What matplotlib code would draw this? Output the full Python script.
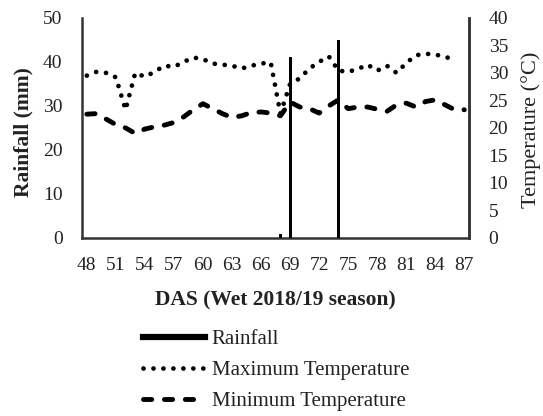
import numpy as np
import matplotlib
matplotlib.use("Agg")
import matplotlib.pyplot as plt
from matplotlib.lines import Line2D

plt.rcParams['font.family'] = ['Liberation Serif', 'DejaVu Serif']

# Donnees
days = list(range(48, 88))
tick_days = list(range(48, 88, 3))

max_temp = [29.5, 30.2, 30.0, 29.2, 23.3, 30.0, 29.3, 30.2, 31.3, 31.1,
            32.0, 32.8, 32.5, 31.7, 31.5, 31.3, 30.8, 31.3, 31.7, 31.9,
            22.6, 28.0, 29.0, 30.8, 32.0, 33.0, 30.4, 30.2, 30.7, 31.5,
            30.4, 31.3, 30.0, 31.8, 33.2, 33.5, 33.3, 33.0, 32.2, np.nan]
min_temp = [22.5, 22.6, 21.6, 20.6, 20.0, 19.0, 19.8, 20.2, 20.5, 21.0,
            22.0, 23.3, 24.4, 23.5, 22.6, 21.9, 22.2, 22.8, 22.9, 22.7,
            22.2, 24.7, 23.8, 23.5, 22.7, 24.0, 25.1, 23.5, 23.8, 23.8,
            23.4, 23.0, 24.2, 24.5, 23.8, 24.8, 25.1, 24.2, 23.3, 23.3]
rain_days = [68, 69, 74]
rain_mm = [1.0, 41.0, 45.0]

txt = '#222222'
dot_style = dict(color='black', lw=3.4, linestyle=(0, (0.01, 2.1)), dash_capstyle='round')
dash_style = dict(color='black', lw=3.5, linestyle=(0, (1.7, 2.6)), dash_capstyle='round')

fig = plt.figure(figsize=(5.43, 4.16), dpi=100)
ax = fig.add_axes([0.151, 0.428, 0.713, 0.529])
ax2 = ax.twinx()

# Pluie (axe gauche)
ax.bar(rain_days, rain_mm, width=0.3, color='black', zorder=3)
ax.set_ylim(0, 50)
ax.set_yticks([0, 10, 20, 30, 40, 50])
ax.set_xlim(47.5, 87.5)
ax.set_xticks(tick_days)

# Temperatures (axe droit)
ax2.plot(days, max_temp, **dot_style)
ax2.plot(days, min_temp, **dash_style)
ax2.set_ylim(0, 40)
ax2.set_yticks(range(0, 45, 5))

for a in (ax, ax2):
    a.spines['top'].set_visible(False)
    for s in ('left', 'right', 'bottom'):
        a.spines[s].set_linewidth(1.8)
        a.spines[s].set_color('#333333')
    a.tick_params(length=0, pad=14, labelsize=14, labelcolor=txt)
ax2.spines['left'].set_visible(False)
ax2.spines['bottom'].set_visible(False)

ax.set_ylabel("Rainfall (mm)", fontsize=15.5, fontweight='bold', color=txt)
ax.yaxis.set_label_coords(-0.152, 0.48)
ax.yaxis.label.set_va('center')
ax2.set_ylabel("Temperature (\u00b0C)", fontsize=16, color=txt)
ax2.yaxis.set_label_coords(1.160, 0.49)
ax2.yaxis.label.set_va('center')
ax.set_xlabel("DAS (Wet 2018/19 season)", fontsize=15.5, fontweight='bold', color=txt)
ax.xaxis.set_label_coords(0.5, -0.282)
ax.xaxis.label.set_va('center')

handles = [
    Line2D([], [], color='black', lw=4.5),
    Line2D([], [], **dot_style),
    Line2D([], [], **dash_style),
]
labels = ["Rainfall", "Maximum Temperature", "Minimum Temperature"]
leg = fig.legend(handles, labels, loc='center left', bbox_to_anchor=(0.263, 0.11),
                 frameon=False, fontsize=15, handlelength=3.0, handletextpad=0.3,
                 labelspacing=0.55, borderpad=0, borderaxespad=0)
for t in leg.get_texts():
    t.set_color(txt)

fig.savefig("out.png", dpi=100)
